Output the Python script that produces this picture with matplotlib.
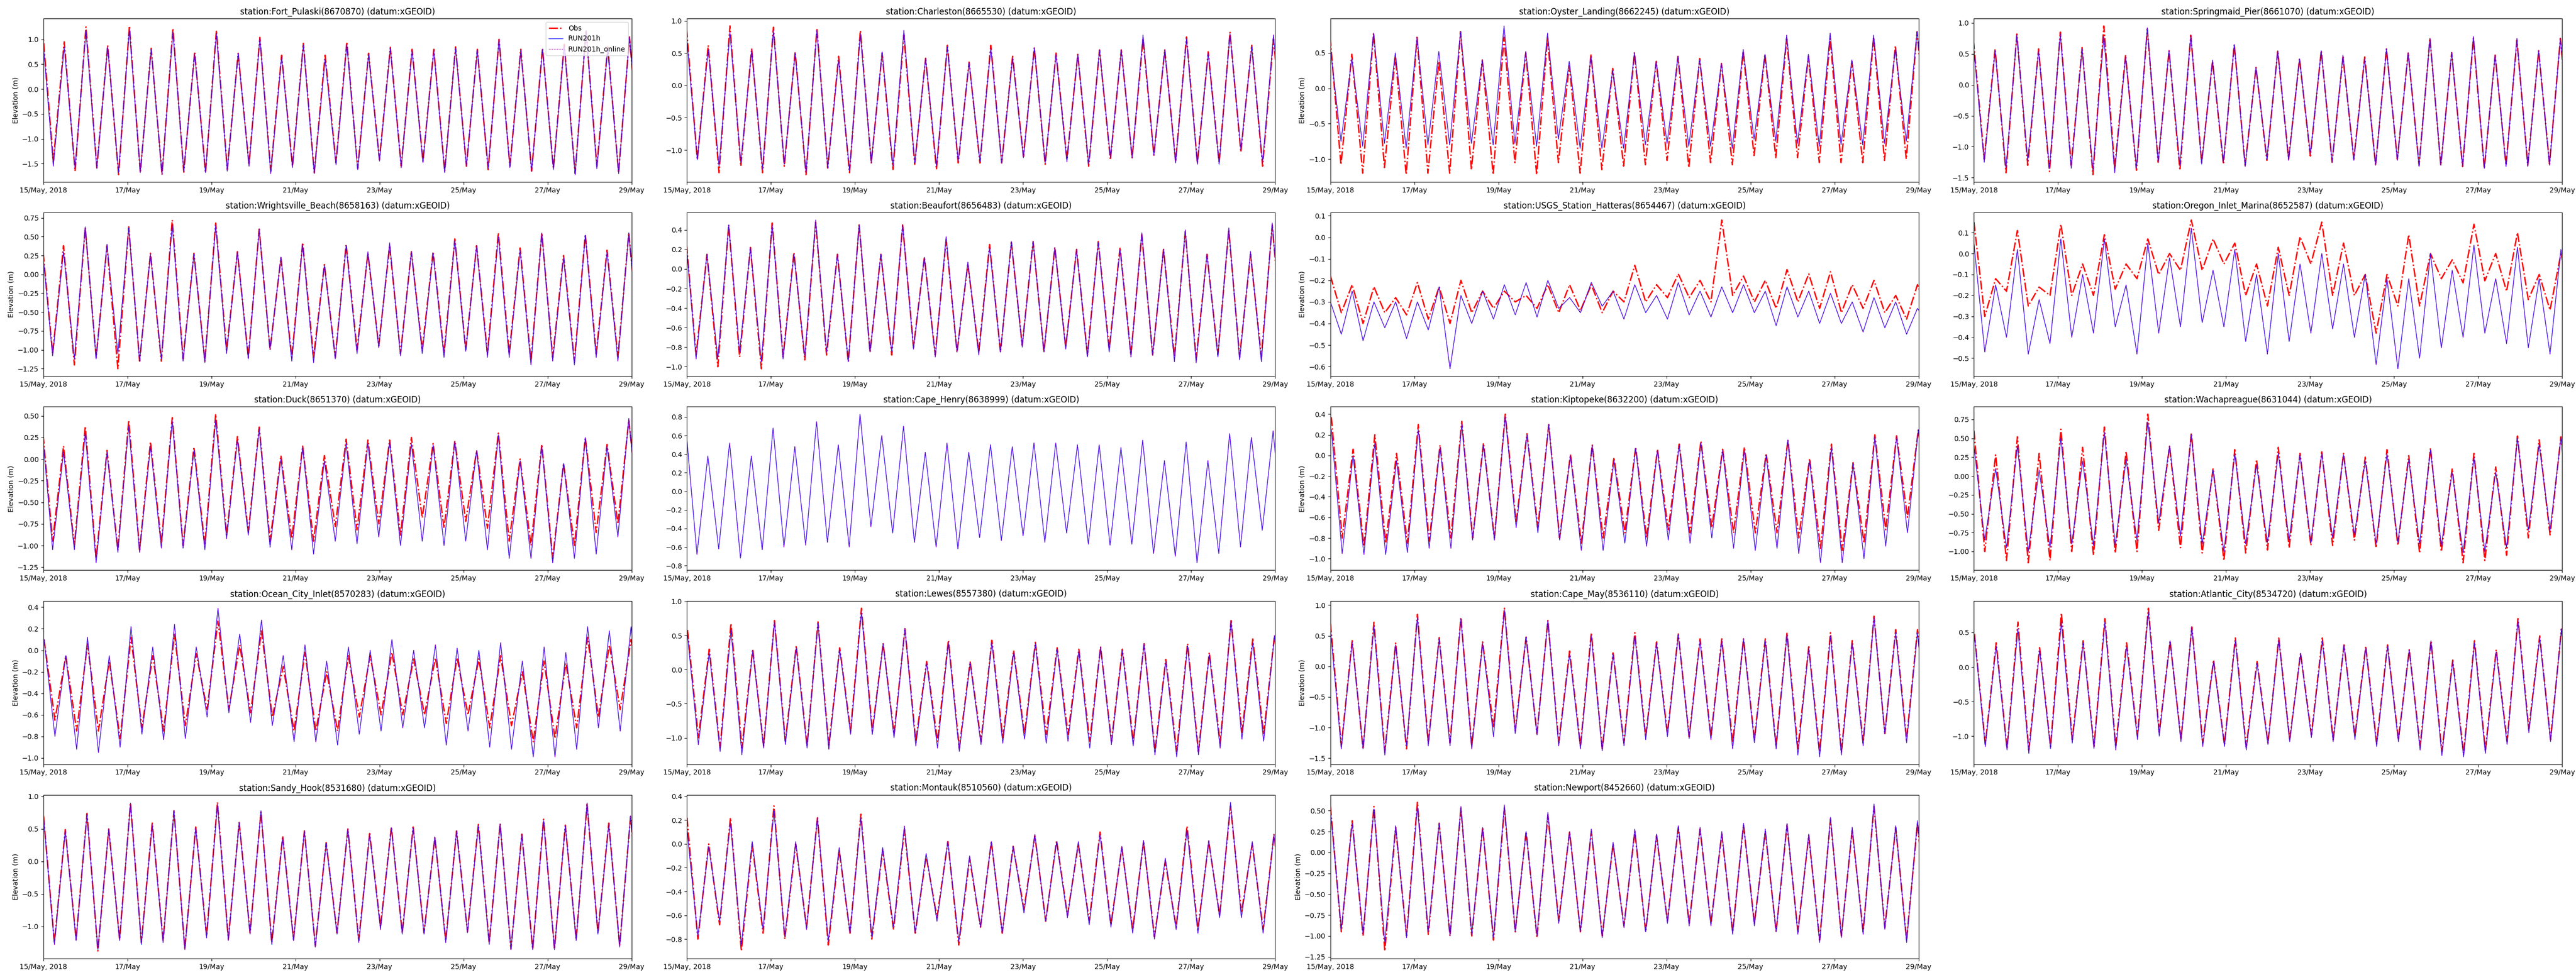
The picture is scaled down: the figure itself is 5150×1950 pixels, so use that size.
import numpy as np
import matplotlib
matplotlib.use("Agg")
import matplotlib.pyplot as plt

# tide extremes (m): highs / lows for each tidal cycle
# first high time (hours after 15 May 00:00) per station
start_day = np.datetime64("2018-05-15T00:00")
half_cycle = 6.21
tick_days = [0, 2, 4, 6, 8, 10, 12, 14]
tick_labels = ["15/May, 2018", "17/May", "19/May", "21/May", "23/May", "25/May", "27/May", "29/May"]

station_titles = [
    "station:Fort_Pulaski(8670870) (datum:xGEOID)",
    "station:Charleston(8665530) (datum:xGEOID)",
    "station:Oyster_Landing(8662245) (datum:xGEOID)",
    "station:Springmaid_Pier(8661070) (datum:xGEOID)",
    "station:Wrightsville_Beach(8658163) (datum:xGEOID)",
    "station:Beaufort(8656483) (datum:xGEOID)",
    "station:USGS_Station_Hatteras(8654467) (datum:xGEOID)",
    "station:Oregon_Inlet_Marina(8652587) (datum:xGEOID)",
    "station:Duck(8651370) (datum:xGEOID)",
    "station:Cape_Henry(8638999) (datum:xGEOID)",
    "station:Kiptopeke(8632200) (datum:xGEOID)",
    "station:Wachapreague(8631044) (datum:xGEOID)",
    "station:Ocean_City_Inlet(8570283) (datum:xGEOID)",
    "station:Lewes(8557380) (datum:xGEOID)",
    "station:Cape_May(8536110) (datum:xGEOID)",
    "station:Atlantic_City(8534720) (datum:xGEOID)",
    "station:Sandy_Hook(8531680) (datum:xGEOID)",
    "station:Montauk(8510560) (datum:xGEOID)",
    "station:Newport(8452660) (datum:xGEOID)",
]
first_high_hours = [-0.6, -0.3, -0.2, -0.3, -1.0, -1.0, 0.0, 0.0, -1.0, -0.5,
                    0.5, 0.0, 0.3, 0.3, 0.0, 0.3, 0.0, 0.0, 0.0]

fort_pulaski_obs_high = [1.22, 0.95, 1.25, 0.88, 1.27, 0.82, 1.22, 0.75, 1.18, 0.72, 1.04, 0.68, 0.92, 0.68, 0.95, 0.72, 0.84, 0.80, 0.80, 0.85, 0.80, 1.00, 0.80, 0.82, 0.90, 1.18, 0.85, 1.05]
fort_pulaski_obs_low = [-1.45, -1.65, -1.58, -1.72, -1.68, -1.72, -1.67, -1.68, -1.62, -1.52, -1.65, -1.55, -1.68, -1.48, -1.60, -1.42, -1.55, -1.45, -1.65, -1.55, -1.62, -1.55, -1.65, -1.60, -1.70, -1.55, -1.68, -1.50]
fort_pulaski_mod_high = [1.10, 0.85, 1.17, 0.85, 1.20, 0.80, 1.15, 0.72, 1.12, 0.72, 1.02, 0.65, 0.88, 0.60, 0.90, 0.70, 0.82, 0.78, 0.78, 0.82, 0.78, 1.00, 0.78, 0.80, 0.88, 1.18, 0.82, 1.05]
fort_pulaski_mod_low = [-1.55, -1.60, -1.60, -1.68, -1.68, -1.72, -1.65, -1.68, -1.65, -1.55, -1.70, -1.58, -1.70, -1.52, -1.62, -1.45, -1.58, -1.48, -1.68, -1.55, -1.60, -1.58, -1.65, -1.62, -1.72, -1.60, -1.70, -1.52]

charleston_obs_high = [0.88, 0.62, 0.92, 0.57, 0.90, 0.52, 0.88, 0.45, 0.85, 0.50, 0.78, 0.42, 0.62, 0.36, 0.62, 0.45, 0.58, 0.50, 0.48, 0.55, 0.55, 0.72, 0.55, 0.75, 0.52, 0.82, 0.62, 0.72]
charleston_obs_low = [-1.15, -1.35, -1.25, -1.35, -1.25, -1.38, -1.28, -1.35, -1.20, -1.30, -1.22, -1.30, -1.20, -1.20, -1.20, -1.10, -1.22, -1.15, -1.25, -1.15, -1.12, -1.08, -1.18, -1.20, -1.20, -1.03, -1.25, -1.10]
charleston_mod_high = [0.78, 0.55, 0.82, 0.55, 0.85, 0.50, 0.85, 0.40, 0.80, 0.52, 0.85, 0.42, 0.60, 0.35, 0.58, 0.42, 0.58, 0.48, 0.48, 0.55, 0.55, 0.78, 0.55, 0.72, 0.50, 0.80, 0.60, 0.78]
charleston_mod_low = [-1.15, -1.25, -1.20, -1.30, -1.22, -1.35, -1.28, -1.32, -1.20, -1.25, -1.20, -1.25, -1.18, -1.18, -1.20, -1.12, -1.20, -1.18, -1.22, -1.12, -1.12, -1.08, -1.20, -1.22, -1.22, -1.00, -1.20, -1.10]

oyster_obs_high = [0.72, 0.48, 0.78, 0.45, 0.72, 0.38, 0.80, 0.40, 0.72, 0.50, 0.72, 0.32, 0.48, 0.28, 0.50, 0.38, 0.45, 0.42, 0.35, 0.52, 0.48, 0.70, 0.45, 0.70, 0.38, 0.72, 0.60, 0.80]
oyster_obs_low = [-1.08, -1.20, -1.12, -1.22, -1.20, -1.20, -1.15, -1.22, -1.05, -1.22, -1.05, -1.20, -1.15, -1.10, -1.08, -1.02, -1.12, -1.05, -1.08, -0.95, -0.98, -0.98, -1.05, -1.05, -1.05, -1.02, -1.00, -0.90]
oyster_mod_high = [0.60, 0.42, 0.78, 0.50, 0.72, 0.52, 0.80, 0.40, 0.88, 0.52, 0.78, 0.38, 0.45, 0.25, 0.50, 0.38, 0.45, 0.40, 0.35, 0.55, 0.48, 0.75, 0.48, 0.78, 0.40, 0.75, 0.55, 0.80]
oyster_mod_low = [-0.75, -0.82, -0.78, -0.85, -0.80, -0.80, -0.78, -0.80, -0.78, -0.82, -0.72, -0.85, -0.85, -0.85, -0.80, -0.78, -0.82, -0.82, -0.85, -0.72, -0.75, -0.78, -0.82, -0.80, -0.80, -0.78, -0.75, -0.72]

springmaid_obs_high = [0.72, 0.58, 0.82, 0.58, 0.85, 0.60, 0.95, 0.48, 0.90, 0.55, 0.80, 0.38, 0.65, 0.28, 0.55, 0.42, 0.55, 0.45, 0.45, 0.58, 0.52, 0.75, 0.52, 0.75, 0.48, 0.72, 0.55, 0.75]
springmaid_obs_low = [-1.20, -1.42, -1.30, -1.40, -1.30, -1.45, -1.35, -1.38, -1.25, -1.38, -1.25, -1.28, -1.30, -1.22, -1.20, -1.15, -1.25, -1.20, -1.30, -1.20, -1.30, -1.30, -1.32, -1.35, -1.30, -1.30, -1.28, -1.20]
springmaid_mod_high = [0.65, 0.55, 0.80, 0.55, 0.82, 0.58, 0.78, 0.45, 0.92, 0.55, 0.80, 0.40, 0.65, 0.28, 0.55, 0.42, 0.55, 0.48, 0.42, 0.58, 0.52, 0.75, 0.52, 0.78, 0.48, 0.75, 0.55, 0.75]
springmaid_mod_low = [-1.25, -1.35, -1.22, -1.35, -1.35, -1.38, -1.42, -1.35, -1.25, -1.30, -1.28, -1.25, -1.32, -1.20, -1.22, -1.12, -1.25, -1.22, -1.30, -1.22, -1.32, -1.30, -1.32, -1.35, -1.32, -1.32, -1.30, -1.20]

wrightsville_obs_high = [0.48, 0.38, 0.62, 0.38, 0.63, 0.28, 0.72, 0.28, 0.68, 0.30, 0.60, 0.22, 0.42, 0.13, 0.40, 0.28, 0.38, 0.30, 0.30, 0.47, 0.38, 0.55, 0.35, 0.55, 0.25, 0.53, 0.32, 0.55]
wrightsville_obs_low = [-1.05, -1.20, -1.10, -1.25, -1.15, -1.15, -1.12, -1.15, -1.00, -1.10, -1.00, -1.10, -1.10, -1.10, -1.00, -0.95, -1.05, -1.00, -1.05, -1.00, -1.05, -1.05, -1.15, -1.10, -1.15, -1.05, -1.10, -1.00]
wrightsville_mod_high = [0.42, 0.30, 0.63, 0.40, 0.62, 0.27, 0.65, 0.27, 0.65, 0.30, 0.60, 0.23, 0.40, 0.12, 0.38, 0.30, 0.42, 0.30, 0.28, 0.45, 0.38, 0.50, 0.32, 0.55, 0.22, 0.52, 0.30, 0.55]
wrightsville_mod_low = [-1.08, -1.12, -1.12, -1.05, -1.15, -1.12, -1.15, -1.17, -1.05, -1.12, -1.00, -1.15, -1.17, -1.12, -1.05, -0.97, -1.08, -1.05, -1.10, -1.02, -1.10, -1.10, -1.20, -1.15, -1.20, -1.10, -1.15, -1.05]

beaufort_obs_high = [0.40, 0.15, 0.45, 0.22, 0.47, 0.17, 0.48, 0.15, 0.45, 0.15, 0.45, 0.12, 0.30, 0.05, 0.25, 0.27, 0.28, 0.22, 0.20, 0.28, 0.22, 0.35, 0.20, 0.38, 0.15, 0.40, 0.15, 0.45]
beaufort_obs_low = [-0.88, -1.00, -0.90, -1.02, -0.90, -0.93, -0.88, -0.95, -0.85, -0.88, -0.80, -0.88, -0.85, -0.85, -0.85, -0.78, -0.85, -0.80, -0.88, -0.82, -0.88, -0.88, -0.90, -0.92, -0.88, -0.90, -0.90, -0.85]
beaufort_mod_high = [0.38, 0.15, 0.45, 0.22, 0.45, 0.15, 0.50, 0.15, 0.45, 0.15, 0.45, 0.12, 0.33, 0.07, 0.22, 0.28, 0.28, 0.22, 0.20, 0.27, 0.20, 0.37, 0.20, 0.40, 0.15, 0.42, 0.18, 0.47]
beaufort_mod_low = [-0.92, -0.92, -0.85, -0.95, -0.92, -0.90, -0.85, -0.95, -0.85, -0.85, -0.82, -0.90, -0.85, -0.88, -0.85, -0.80, -0.85, -0.82, -0.90, -0.85, -0.90, -0.88, -0.95, -0.96, -0.90, -0.93, -0.95, -0.88]

hatteras_obs_high = [-0.18, -0.22, -0.23, -0.28, -0.21, -0.23, -0.20, -0.25, -0.25, -0.27, -0.22, -0.22, -0.22, -0.25, -0.13, -0.22, -0.17, -0.20, 0.08, -0.18, -0.20, -0.15, -0.17, -0.16, -0.22, -0.20, -0.27, -0.22]
hatteras_obs_low = [-0.35, -0.40, -0.35, -0.36, -0.38, -0.40, -0.35, -0.33, -0.30, -0.33, -0.35, -0.34, -0.35, -0.30, -0.30, -0.28, -0.28, -0.30, -0.27, -0.30, -0.33, -0.30, -0.33, -0.35, -0.33, -0.35, -0.38, -0.35]
hatteras_mod_high = [-0.30, -0.25, -0.30, -0.30, -0.30, -0.23, -0.27, -0.25, -0.22, -0.21, -0.20, -0.28, -0.21, -0.25, -0.22, -0.27, -0.21, -0.25, -0.23, -0.22, -0.25, -0.23, -0.25, -0.26, -0.30, -0.28, -0.30, -0.33]
hatteras_mod_low = [-0.45, -0.48, -0.42, -0.47, -0.43, -0.61, -0.40, -0.38, -0.36, -0.37, -0.33, -0.35, -0.32, -0.38, -0.35, -0.38, -0.36, -0.37, -0.35, -0.35, -0.41, -0.37, -0.40, -0.40, -0.44, -0.42, -0.45, -0.40]

oregon_obs_high = [0.15, -0.12, 0.11, -0.16, 0.14, -0.05, 0.09, -0.05, 0.07, 0.00, 0.16, 0.07, 0.05, -0.05, 0.03, 0.08, 0.15, 0.05, -0.10, -0.10, 0.09, 0.00, -0.03, 0.14, 0.00, 0.10, -0.10, 0.00]
oregon_obs_low = [-0.30, -0.18, -0.25, -0.20, -0.20, -0.20, -0.17, -0.12, -0.10, -0.08, -0.08, -0.05, -0.20, -0.25, -0.20, -0.05, -0.20, -0.20, -0.38, -0.25, -0.25, -0.12, -0.14, -0.13, -0.18, -0.22, -0.27, -0.20]
oregon_mod_high = [0.05, -0.15, 0.02, -0.22, 0.07, -0.10, 0.07, -0.15, 0.05, -0.02, 0.12, -0.08, 0.02, -0.10, 0.00, -0.05, 0.00, -0.05, -0.10, -0.12, -0.12, 0.00, -0.08, 0.04, -0.12, 0.03, -0.12, 0.02]
oregon_mod_low = [-0.47, -0.40, -0.48, -0.43, -0.40, -0.38, -0.35, -0.48, -0.38, -0.35, -0.33, -0.35, -0.42, -0.48, -0.42, -0.38, -0.36, -0.40, -0.53, -0.55, -0.50, -0.45, -0.40, -0.38, -0.43, -0.45, -0.48, -0.40]

duck_obs_high = [0.45, 0.15, 0.38, 0.10, 0.45, 0.20, 0.48, 0.14, 0.52, 0.26, 0.37, 0.04, 0.15, 0.04, 0.23, 0.22, 0.22, 0.25, 0.18, 0.21, 0.10, 0.30, 0.00, 0.17, -0.05, 0.25, 0.17, 0.45]
duck_obs_low = [-0.95, -1.00, -1.15, -1.05, -1.05, -0.98, -1.00, -1.00, -0.88, -0.85, -0.95, -0.92, -0.95, -0.78, -0.82, -0.75, -0.88, -0.68, -0.80, -0.72, -0.80, -0.95, -1.00, -1.15, -1.00, -0.85, -0.75, -0.70]
duck_mod_high = [0.40, 0.08, 0.30, 0.08, 0.38, 0.15, 0.45, 0.10, 0.45, 0.22, 0.35, 0.00, 0.14, -0.02, 0.18, 0.18, 0.20, 0.18, 0.16, 0.20, 0.10, 0.28, -0.02, 0.15, -0.05, 0.25, 0.15, 0.47]
duck_mod_low = [-1.05, -1.05, -1.20, -1.08, -1.08, -1.03, -1.03, -1.05, -0.92, -0.88, -1.02, -1.05, -1.10, -0.95, -0.98, -0.90, -1.00, -0.95, -1.00, -0.95, -1.05, -1.15, -1.15, -1.20, -1.15, -1.10, -0.90, -0.85]

# Cape Henry has no observations in the reference
cape_henry_mod_high = [0.65, 0.38, 0.52, 0.38, 0.68, 0.48, 0.75, 0.50, 0.83, 0.60, 0.70, 0.42, 0.52, 0.42, 0.50, 0.48, 0.52, 0.52, 0.50, 0.50, 0.47, 0.55, 0.33, 0.53, 0.33, 0.62, 0.58, 0.65]
cape_henry_mod_low = [-0.68, -0.62, -0.72, -0.63, -0.60, -0.58, -0.55, -0.60, -0.38, -0.45, -0.55, -0.60, -0.62, -0.50, -0.53, -0.48, -0.55, -0.45, -0.57, -0.58, -0.57, -0.67, -0.70, -0.77, -0.67, -0.60, -0.42, -0.60]

kiptopeke_obs_high = [0.37, 0.06, 0.20, 0.02, 0.30, 0.10, 0.33, 0.12, 0.40, 0.21, 0.30, 0.01, 0.10, -0.02, 0.08, 0.06, 0.11, 0.14, 0.06, 0.08, 0.02, 0.15, -0.03, 0.11, -0.07, 0.20, 0.19, 0.25]
kiptopeke_obs_low = [-0.80, -0.88, -0.85, -0.85, -0.83, -0.80, -0.80, -0.80, -0.65, -0.70, -0.80, -0.85, -0.80, -0.75, -0.80, -0.72, -0.75, -0.70, -0.75, -0.75, -0.75, -0.80, -0.90, -0.92, -0.85, -0.72, -0.60, -0.60]
kiptopeke_mod_high = [0.25, 0.00, 0.12, -0.05, 0.25, 0.08, 0.30, 0.10, 0.38, 0.20, 0.30, 0.00, 0.10, -0.05, 0.07, 0.05, 0.10, 0.12, 0.05, 0.05, 0.00, 0.15, -0.05, 0.08, -0.08, 0.18, 0.18, 0.25]
kiptopeke_mod_low = [-0.95, -0.96, -0.96, -0.94, -0.90, -0.90, -0.82, -0.82, -0.70, -0.75, -0.82, -0.92, -0.92, -0.85, -0.88, -0.82, -0.85, -0.80, -0.90, -0.92, -0.90, -0.95, -1.04, -1.04, -1.00, -0.88, -0.75, -0.70]

wachapreague_obs_high = [0.60, 0.28, 0.52, 0.30, 0.62, 0.38, 0.65, 0.33, 0.82, 0.40, 0.57, 0.10, 0.35, 0.22, 0.38, 0.30, 0.32, 0.30, 0.25, 0.35, 0.27, 0.37, 0.10, 0.30, 0.12, 0.53, 0.48, 0.52]
wachapreague_obs_low = [-1.00, -1.12, -1.15, -1.12, -1.00, -1.05, -1.02, -1.00, -0.72, -0.95, -1.02, -1.12, -1.02, -0.98, -0.95, -0.92, -0.92, -0.85, -0.95, -0.92, -1.02, -1.00, -1.15, -1.12, -1.05, -0.82, -0.78, -0.80]
wachapreague_mod_high = [0.40, 0.10, 0.40, 0.08, 0.50, 0.20, 0.58, 0.22, 0.72, 0.40, 0.55, 0.08, 0.30, 0.15, 0.30, 0.28, 0.30, 0.28, 0.20, 0.30, 0.22, 0.35, 0.05, 0.25, 0.05, 0.50, 0.42, 0.50]
wachapreague_mod_low = [-0.85, -0.95, -1.00, -0.95, -0.90, -0.92, -0.92, -0.85, -0.62, -0.80, -0.90, -1.00, -0.90, -0.88, -0.85, -0.88, -0.82, -0.78, -0.90, -0.88, -0.90, -0.92, -1.02, -1.00, -0.95, -0.72, -0.72, -0.72]

ocean_city_obs_high = [0.10, -0.05, 0.06, -0.10, 0.12, -0.05, 0.15, -0.03, 0.27, 0.05, 0.18, -0.15, -0.02, -0.20, -0.05, -0.05, -0.02, -0.08, -0.07, -0.07, -0.08, -0.05, -0.20, -0.10, -0.12, 0.12, 0.05, 0.10]
ocean_city_obs_low = [-0.65, -0.75, -0.75, -0.82, -0.72, -0.75, -0.70, -0.55, -0.55, -0.58, -0.62, -0.75, -0.75, -0.75, -0.62, -0.60, -0.60, -0.60, -0.68, -0.60, -0.72, -0.70, -0.85, -0.82, -0.72, -0.62, -0.55, -0.50]
ocean_city_mod_high = [0.10, -0.05, 0.12, -0.05, 0.22, 0.03, 0.24, 0.03, 0.39, 0.15, 0.28, -0.05, 0.05, -0.10, 0.03, 0.00, 0.10, 0.00, 0.05, 0.02, 0.00, 0.07, -0.10, 0.03, -0.02, 0.22, 0.18, 0.22]
ocean_city_mod_low = [-0.80, -0.92, -0.95, -0.90, -0.78, -0.83, -0.82, -0.62, -0.58, -0.67, -0.70, -0.85, -0.85, -0.88, -0.78, -0.75, -0.72, -0.72, -0.88, -0.75, -0.90, -0.92, -0.99, -0.99, -0.92, -0.72, -0.75, -0.65]

lewes_obs_high = [0.58, 0.30, 0.68, 0.30, 0.72, 0.35, 0.70, 0.32, 0.90, 0.38, 0.60, 0.12, 0.43, 0.12, 0.43, 0.28, 0.40, 0.32, 0.30, 0.33, 0.30, 0.38, 0.15, 0.38, 0.25, 0.72, 0.45, 0.50]
lewes_obs_low = [-1.00, -1.15, -1.15, -1.12, -1.05, -1.12, -1.12, -0.90, -0.90, -0.95, -1.05, -1.05, -1.15, -1.05, -1.00, -0.95, -0.95, -0.95, -1.05, -1.05, -1.05, -1.20, -1.20, -1.20, -1.08, -0.92, -0.95, -0.80]
lewes_mod_high = [0.50, 0.25, 0.58, 0.28, 0.70, 0.32, 0.68, 0.30, 0.85, 0.38, 0.60, 0.10, 0.40, 0.10, 0.40, 0.25, 0.38, 0.30, 0.28, 0.33, 0.28, 0.38, 0.12, 0.35, 0.22, 0.72, 0.40, 0.50]
lewes_mod_low = [-1.10, -1.20, -1.25, -1.15, -1.10, -1.15, -1.17, -0.95, -0.95, -1.00, -1.12, -1.15, -1.20, -1.10, -1.08, -1.02, -1.08, -1.05, -1.15, -1.10, -1.12, -1.25, -1.28, -1.25, -1.15, -1.02, -1.05, -0.85]

cape_may_obs_high = [0.70, 0.42, 0.72, 0.38, 0.85, 0.47, 0.80, 0.40, 0.95, 0.48, 0.75, 0.25, 0.55, 0.22, 0.55, 0.40, 0.53, 0.45, 0.45, 0.45, 0.45, 0.55, 0.32, 0.55, 0.42, 0.82, 0.60, 0.60]
cape_may_obs_low = [-1.30, -1.35, -1.40, -1.35, -1.25, -1.25, -1.30, -1.00, -1.05, -1.10, -1.25, -1.30, -1.35, -1.25, -1.15, -1.10, -1.15, -1.15, -1.25, -1.20, -1.30, -1.35, -1.40, -1.40, -1.25, -1.10, -1.20, -1.10]
cape_may_mod_high = [0.60, 0.40, 0.65, 0.35, 0.80, 0.45, 0.78, 0.38, 0.92, 0.48, 0.75, 0.20, 0.50, 0.20, 0.50, 0.38, 0.52, 0.42, 0.43, 0.45, 0.42, 0.52, 0.30, 0.50, 0.38, 0.80, 0.55, 0.55]
cape_may_mod_low = [-1.35, -1.35, -1.45, -1.30, -1.30, -1.30, -1.35, -1.15, -1.10, -1.12, -1.30, -1.35, -1.38, -1.30, -1.20, -1.15, -1.18, -1.20, -1.35, -1.25, -1.35, -1.45, -1.48, -1.45, -1.30, -1.10, -1.25, -1.10]

atlantic_city_obs_high = [0.48, 0.35, 0.65, 0.28, 0.78, 0.38, 0.70, 0.35, 0.85, 0.38, 0.58, 0.10, 0.42, 0.08, 0.42, 0.20, 0.42, 0.32, 0.30, 0.32, 0.25, 0.38, 0.10, 0.38, 0.25, 0.70, 0.45, 0.55]
atlantic_city_obs_low = [-1.12, -1.18, -1.20, -1.15, -1.05, -1.15, -1.15, -1.00, -0.95, -1.05, -1.10, -1.12, -1.15, -1.10, -1.05, -0.98, -1.05, -1.00, -1.10, -1.05, -1.15, -1.22, -1.25, -1.20, -1.08, -0.90, -1.05, -0.90]
atlantic_city_mod_high = [0.45, 0.30, 0.55, 0.25, 0.65, 0.35, 0.65, 0.30, 0.80, 0.38, 0.58, 0.08, 0.38, 0.05, 0.40, 0.20, 0.38, 0.32, 0.28, 0.30, 0.25, 0.38, 0.08, 0.35, 0.22, 0.68, 0.42, 0.55]
atlantic_city_mod_low = [-1.15, -1.20, -1.25, -1.18, -1.10, -1.18, -1.20, -1.05, -1.00, -1.08, -1.15, -1.15, -1.20, -1.12, -1.08, -1.02, -1.08, -1.05, -1.15, -1.08, -1.20, -1.28, -1.30, -1.25, -1.12, -0.95, -1.08, -0.90]

sandy_hook_obs_high = [0.70, 0.49, 0.74, 0.50, 0.90, 0.59, 0.78, 0.53, 0.91, 0.60, 0.76, 0.39, 0.47, 0.29, 0.50, 0.43, 0.53, 0.53, 0.37, 0.47, 0.57, 0.58, 0.42, 0.65, 0.56, 0.88, 0.59, 0.69]
sandy_hook_obs_low = [-1.25, -1.20, -1.38, -1.20, -1.25, -1.22, -1.35, -1.15, -1.20, -1.10, -1.25, -1.20, -1.30, -1.10, -1.22, -1.00, -1.10, -1.10, -1.22, -1.08, -1.25, -1.35, -1.35, -1.35, -1.20, -1.10, -1.30, -1.10]
sandy_hook_mod_high = [0.68, 0.47, 0.72, 0.50, 0.90, 0.57, 0.78, 0.52, 0.88, 0.60, 0.78, 0.37, 0.47, 0.28, 0.50, 0.42, 0.52, 0.52, 0.38, 0.47, 0.55, 0.58, 0.42, 0.63, 0.55, 0.90, 0.57, 0.70]
sandy_hook_mod_low = [-1.28, -1.22, -1.36, -1.22, -1.28, -1.25, -1.36, -1.18, -1.22, -1.12, -1.28, -1.22, -1.32, -1.12, -1.25, -1.05, -1.12, -1.12, -1.25, -1.10, -1.28, -1.36, -1.36, -1.36, -1.22, -1.12, -1.32, -1.12]

montauk_obs_high = [0.22, 0.00, 0.22, 0.00, 0.32, 0.00, 0.22, -0.05, 0.25, -0.05, 0.12, -0.10, 0.02, -0.12, 0.02, -0.02, 0.07, 0.03, 0.00, 0.10, -0.03, 0.02, -0.15, 0.15, 0.02, 0.32, 0.00, 0.08]
montauk_obs_low = [-0.80, -0.68, -0.90, -0.75, -0.80, -0.70, -0.85, -0.75, -0.80, -0.72, -0.75, -0.62, -0.85, -0.70, -0.75, -0.55, -0.65, -0.60, -0.65, -0.68, -0.72, -0.78, -0.70, -0.72, -0.60, -0.58, -0.72, -0.70]
montauk_mod_high = [0.12, -0.02, 0.18, 0.02, 0.28, 0.02, 0.22, -0.03, 0.22, -0.03, 0.15, -0.08, 0.02, -0.10, 0.02, -0.02, 0.08, 0.02, 0.02, 0.08, -0.02, 0.03, -0.12, 0.12, 0.03, 0.35, 0.02, 0.08]
montauk_mod_low = [-0.78, -0.65, -0.85, -0.72, -0.78, -0.72, -0.82, -0.75, -0.78, -0.70, -0.75, -0.65, -0.82, -0.70, -0.75, -0.58, -0.65, -0.62, -0.68, -0.70, -0.75, -0.80, -0.72, -0.75, -0.62, -0.62, -0.75, -0.70]

newport_obs_high = [0.55, 0.38, 0.55, 0.30, 0.60, 0.35, 0.53, 0.30, 0.53, 0.25, 0.45, 0.25, 0.25, 0.10, 0.25, 0.20, 0.30, 0.28, 0.22, 0.33, 0.25, 0.33, 0.20, 0.40, 0.27, 0.55, 0.30, 0.35]
newport_obs_low = [-0.95, -1.00, -1.18, -1.00, -0.98, -1.00, -1.00, -1.05, -0.95, -1.02, -0.82, -0.95, -1.00, -0.88, -0.95, -0.82, -0.85, -0.85, -0.95, -0.85, -0.95, -0.95, -1.05, -1.00, -0.95, -0.90, -1.05, -0.95]
newport_mod_high = [0.50, 0.35, 0.52, 0.32, 0.55, 0.35, 0.55, 0.30, 0.57, 0.25, 0.48, 0.25, 0.28, 0.12, 0.28, 0.22, 0.32, 0.30, 0.25, 0.35, 0.28, 0.35, 0.22, 0.42, 0.30, 0.58, 0.32, 0.38]
newport_mod_low = [-0.92, -0.98, -1.08, -1.02, -0.95, -1.00, -0.98, -1.02, -0.95, -1.00, -0.85, -0.95, -1.02, -0.90, -0.95, -0.85, -0.88, -0.88, -0.98, -0.88, -0.95, -0.98, -1.08, -1.02, -0.98, -0.92, -1.08, -0.95]

obs_series = [
    (fort_pulaski_obs_high, fort_pulaski_obs_low), (charleston_obs_high, charleston_obs_low),
    (oyster_obs_high, oyster_obs_low), (springmaid_obs_high, springmaid_obs_low),
    (wrightsville_obs_high, wrightsville_obs_low), (beaufort_obs_high, beaufort_obs_low),
    (hatteras_obs_high, hatteras_obs_low), (oregon_obs_high, oregon_obs_low),
    (duck_obs_high, duck_obs_low), None,
    (kiptopeke_obs_high, kiptopeke_obs_low), (wachapreague_obs_high, wachapreague_obs_low),
    (ocean_city_obs_high, ocean_city_obs_low), (lewes_obs_high, lewes_obs_low),
    (cape_may_obs_high, cape_may_obs_low), (atlantic_city_obs_high, atlantic_city_obs_low),
    (sandy_hook_obs_high, sandy_hook_obs_low), (montauk_obs_high, montauk_obs_low),
    (newport_obs_high, newport_obs_low),
]
mod_series = [
    (fort_pulaski_mod_high, fort_pulaski_mod_low), (charleston_mod_high, charleston_mod_low),
    (oyster_mod_high, oyster_mod_low), (springmaid_mod_high, springmaid_mod_low),
    (wrightsville_mod_high, wrightsville_mod_low), (beaufort_mod_high, beaufort_mod_low),
    (hatteras_mod_high, hatteras_mod_low), (oregon_mod_high, oregon_mod_low),
    (duck_mod_high, duck_mod_low), (cape_henry_mod_high, cape_henry_mod_low),
    (kiptopeke_mod_high, kiptopeke_mod_low), (wachapreague_mod_high, wachapreague_mod_low),
    (ocean_city_mod_high, ocean_city_mod_low), (lewes_mod_high, lewes_mod_low),
    (cape_may_mod_high, cape_may_mod_low), (atlantic_city_mod_high, atlantic_city_mod_low),
    (sandy_hook_mod_high, sandy_hook_mod_low), (montauk_mod_high, montauk_mod_low),
    (newport_mod_high, newport_mod_low),
]


def tide_line(t_first, highs, lows):
    # alternate high, low, high, ... half a tidal cycle apart
    vals = []
    for h, l in zip(highs, lows):
        vals += [h, l]
    hours = t_first + half_cycle * np.arange(len(vals))
    times = start_day + (hours * 60).astype(int).astype("timedelta64[m]")
    return times, np.array(vals)


fig, axes = plt.subplots(5, 4, figsize=(51.5, 19.5), dpi=100)
fig.subplots_adjust(left=0.0169, right=0.9946, top=0.981, bottom=0.017, wspace=0.094, hspace=0.187)
axes = axes.ravel()

tick_pos = [start_day + np.timedelta64(d, "D") for d in tick_days]

for i, title in enumerate(station_titles):
    ax = axes[i]
    t0 = first_high_hours[i]
    if obs_series[i] is not None:
        x, y = tide_line(t0, *obs_series[i])
        ax.plot(x, y, "r-.", lw=2, label="Obs")
    x, y = tide_line(t0, *mod_series[i])
    ax.plot(x, y, "b-", lw=0.9, label="RUN201h")
    ax.plot(x, y, "m:", lw=0.9, label="RUN201h_online")
    ax.set_title(title)
    ax.set_xlim(start_day, start_day + np.timedelta64(14, "D"))
    ax.set_xticks(tick_pos)
    ax.set_xticklabels(tick_labels)
    if i % 2 == 0:
        ax.set_ylabel("Elevation (m)")
    if i == 0:
        ax.legend(loc="upper right")

axes[19].axis("off")

plt.savefig("out.png")
